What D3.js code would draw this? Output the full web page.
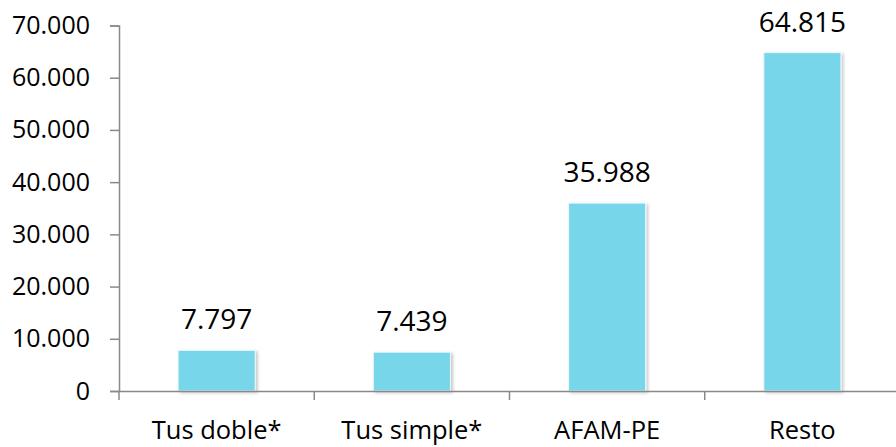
<!DOCTYPE html>
<html>
<head>
<meta charset="utf-8">
<script src="https://cdn.jsdelivr.net/npm/d3@7"></script>
<style>
  body { margin: 0; background: #fff; }
  svg { display: block; font-family: "Open Sans", sans-serif; }
</style>
</head>
<body>
<svg id="chart"></svg>
<script>
// Data
const categories = ["Tus doble*", "Tus simple*", "AFAM-PE", "Resto"];
const values = [7797, 7439, 35988, 64815];
const yTicks = [0, 10000, 20000, 30000, 40000, 50000, 60000, 70000];

const width = 896, height = 447;
const margin = { top: 25.5, right: -4, bottom: 56, left: 119 };

const svg = d3.select("#chart")
    .attr("width", width)
    .attr("height", height);

// Shadow for bars
const defs = svg.append("defs");
const f = defs.append("filter").attr("id", "shadow")
    .attr("x", "-10%").attr("y", "-10%").attr("width", "130%").attr("height", "130%");
f.append("feDropShadow")
    .attr("dx", 2).attr("dy", 1.5).attr("stdDeviation", 1.5)
    .attr("flood-color", "#000").attr("flood-opacity", 0.22);

// Scales
const x = d3.scaleBand()
    .domain(categories)
    .range([margin.left, width - margin.right])
    .padding(0);

const y = d3.scaleLinear()
    .domain([0, 70000])
    .range([height - margin.bottom, margin.top]);

const fmt = d => d3.format(",")(d).replace(/,/g, ".");

const barW = x.bandwidth() * 0.395;

// Bars
svg.append("g").selectAll("rect")
    .data(values)
    .join("rect")
    .attr("x", (d, i) => x(categories[i]) + (x.bandwidth() - barW) / 2)
    .attr("y", d => y(d))
    .attr("width", barW)
    .attr("height", d => y(0) - y(d))
    .attr("fill", "#78d6ea")
    .attr("stroke", "#eef9fc")
    .attr("stroke-width", 1)
    .attr("filter", "url(#shadow)");

// Value labels
svg.append("g").selectAll("text")
    .data(values)
    .join("text")
    .attr("x", (d, i) => x(categories[i]) + x.bandwidth() / 2)
    .attr("y", d => y(d) - 21)
    .attr("text-anchor", "middle")
    .attr("font-size", 28)
    .attr("fill", "#000")
    .text(d => fmt(d));

// Y axis
const yAxis = svg.append("g")
    .attr("transform", `translate(${margin.left}, 0)`)
    .call(d3.axisLeft(y).tickValues(yTicks).tickSize(9).tickPadding(20).tickFormat(fmt));
yAxis.select(".domain").attr("stroke", "#898989").attr("stroke-width", 1.5);
yAxis.selectAll(".tick line").attr("stroke", "#898989").attr("stroke-width", 1.5);
yAxis.selectAll(".tick text").attr("font-size", 25).attr("fill", "#000")
    .attr("font-family", "Open Sans, sans-serif");

// X axis
const xAxis = svg.append("g")
    .attr("transform", `translate(0, ${y(0)})`)
    .call(d3.axisBottom(x).tickSize(0).tickPadding(30));
xAxis.select(".domain").attr("stroke", "#898989").attr("stroke-width", 1.5);
xAxis.selectAll(".tick text").attr("font-size", 25.5).attr("fill", "#000")
    .attr("font-family", "Open Sans, sans-serif");

// Category boundary ticks
const bounds = categories.map(c => x(c));
xAxis.selectAll(".bound")
    .data(bounds)
    .join("line")
    .attr("class", "bound")
    .attr("x1", d => d).attr("x2", d => d)
    .attr("y1", 0).attr("y2", 9)
    .attr("stroke", "#898989").attr("stroke-width", 1.5);
</script>
</body>
</html>
